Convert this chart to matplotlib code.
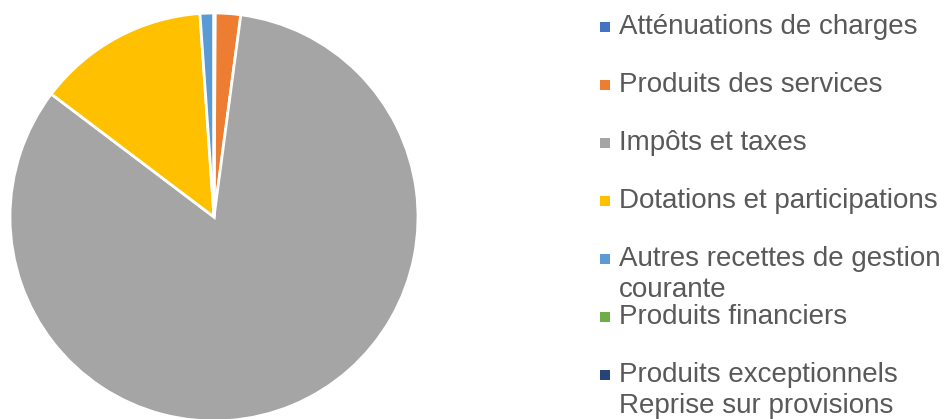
import matplotlib
matplotlib.use("Agg")
import matplotlib.pyplot as plt
from matplotlib.patches import Rectangle

categories = [
    "Atténuations de charges",
    "Produits des services",
    "Impôts et taxes",
    "Dotations et participations",
    "Autres recettes de gestion\ncourante",
    "Produits financiers",
    "Produits exceptionnels\nReprise sur provisions",
]
values = [0.1, 2.0, 83.2, 13.6, 1.1, 0.0, 0.0]
colors = ["#4472C4", "#ED7D31", "#A5A5A5", "#FFC000", "#5B9BD5", "#70AD47", "#264478"]

W, H = 946, 419
fig = plt.figure(figsize=(W / 100, H / 100), dpi=100)

cx, cy, r = 214, 217, 204
ax = fig.add_axes([(cx - r) / W, (H - cy - r) / H, 2 * r / W, 2 * r / H])
ax.pie(values, colors=colors, startangle=90, counterclock=False,
       wedgeprops=dict(edgecolor="white", linewidth=2.0), radius=1)
ax.set_xlim(-1, 1)
ax.set_ylim(-1, 1)
ax.set_aspect("auto")
ax.axis("off")

text_color = "#595959"
first_baseline = 34
step = 58
wrap_step = 31
for i, (lab, col) in enumerate(zip(categories, colors)):
    base = first_baseline + i * step
    for j, line in enumerate(lab.split("\n")):
        fig.text(619 / W, 1 - (base + j * wrap_step) / H, line, fontsize=20,
                 color=text_color, va="baseline", ha="left",
                 family=["Liberation Sans", "DejaVu Sans"])
    fig.patches.append(Rectangle((600 / W, 1 - (base - 2) / H), 10 / W, 10 / H,
                                 transform=fig.transFigure, facecolor=col,
                                 edgecolor="none", figure=fig))

fig.savefig("out.png", dpi=100)
